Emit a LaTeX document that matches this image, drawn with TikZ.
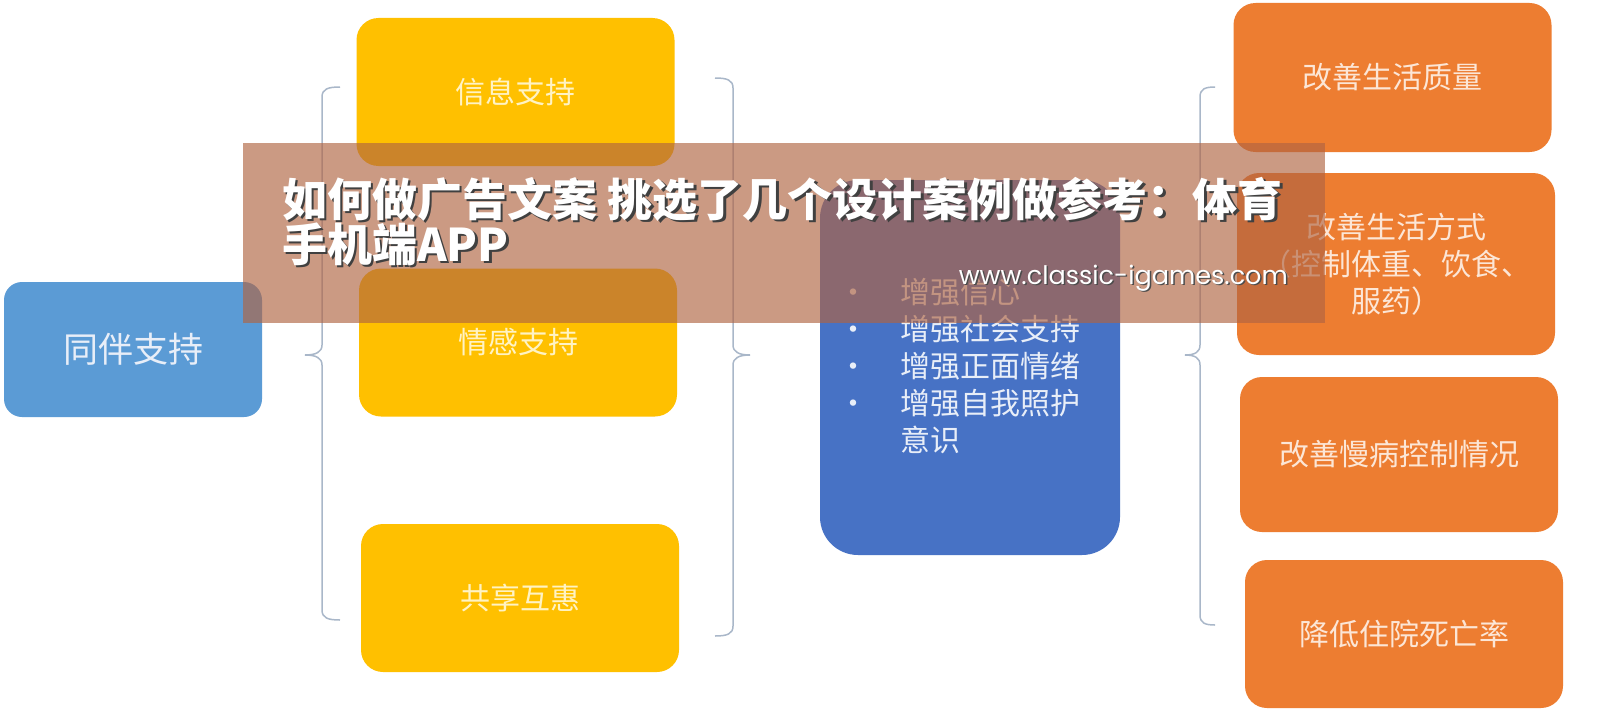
\documentclass[tikz,border=0pt]{standalone}
\usepackage{fontspec}
\setmainfont{Liberation Sans}
\newfontfamily\cjk{Noto Sans CJK SC}
\newfontfamily\urlfont{Poppins}

\definecolor{peerblue}{HTML}{5B9BD5}
\definecolor{boxyellow}{HTML}{FFC000}
\definecolor{boxorange}{HTML}{ED7D31}
\definecolor{listblue}{HTML}{4772C5}
\definecolor{bracegray}{HTML}{A9B7C9}
\definecolor{yellowtext}{HTML}{FFF3C4}
\definecolor{orangetext}{HTML}{FCE6D6}
\definecolor{bluetext}{HTML}{E8EEF8}
\definecolor{bannerbrown}{RGB}{176,100,66}

\tikzset{
  peerbox/.style={fill=peerblue, rounded corners=18pt, inner sep=0pt,
    minimum width=258pt, minimum height=135pt, text=bluetext,
    font=\cjk\fontsize{35}{40}\selectfont},
  kindbox/.style={fill=boxyellow, rounded corners=22pt, inner sep=0pt,
    minimum width=318pt, minimum height=148pt, text=yellowtext,
    font=\cjk\fontsize{30}{36}\selectfont},
  resultbox/.style={fill=boxorange, rounded corners=22pt, inner sep=0pt,
    minimum width=318pt, text=orangetext, align=center,
    font=\cjk\fontsize{30}{37}\selectfont},
  brace/.style={draw=bracegray, line width=1.5pt},
  titleline/.style={inner sep=0pt, anchor=north west, align=left,
    font=\cjk\bfseries\fontsize{45}{42}\selectfont},
  urlline/.style={inner sep=0pt, anchor=east,
    font=\urlfont\fontsize{25.5}{28}\selectfont},
}
\newcommand{\bul}{\makebox[30pt][c]{•}\hspace{32pt}}

\begin{document}
\begin{tikzpicture}[x=1pt,y=-1pt]
\useasboundingbox (0,0) rectangle (1597,725);
\fill[white] (0,0) rectangle (1597,725);

% left: peer support
\node[peerbox] (peer) at (133,349.5) {同伴支持};

% kinds of support
\node[kindbox] (info) at (515.5,92) {信息支持};
\node[kindbox] (emotion) at (518,342.5) {情感支持};
\node[kindbox] (share) at (520,598) {共享互惠};

% gains
\fill[listblue, rounded corners=38pt] (820,180) rectangle (1120,555);
\coordinate (gains) at (820,180);
\node[inner sep=0pt, anchor=north west, align=left, text=bluetext,
  font=\cjk\fontsize{30}{37}\selectfont] (gainlist) at (838,278)
  {\bul 增强信心\\ \bul 增强社会支持\\ \bul 增强正面情绪\\
   \bul 增强自我照护\\ \hspace*{62pt}意识};

% results
\node[resultbox, minimum height=149pt] (quality) at (1392.5,77.5) {改善生活质量};
\node[resultbox, minimum height=182pt] (life) at (1396,264) {改善生活方式\\（控制体重、饮食、\\服药）};
\node[resultbox, minimum height=155pt] (chronic) at (1399,454.5) {改善慢病控制情况};
\node[resultbox, minimum height=148pt] (hospital) at (1404,634) {降低住院死亡率};

% braces
\draw[brace] (340,87) .. controls (328,87) and (322,89) .. (322,97) -- (322,345)
  .. controls (322,352) and (316,355) .. (305,355)
  .. controls (316,355) and (322,358) .. (322,365) -- (322,610)
  .. controls (322,618) and (328,620) .. (340,620);
\draw[brace] (715,78) .. controls (727,78) and (733,80) .. (733,88) -- (733,345)
  .. controls (733,352) and (739,355) .. (750,355)
  .. controls (739,355) and (733,358) .. (733,365) -- (733,626)
  .. controls (733,634) and (727,636) .. (715,636);
\draw[brace] (1215,87) .. controls (1205,87) and (1200,89) .. (1200,97) -- (1200,345)
  .. controls (1200,352) and (1195,355) .. (1185,355)
  .. controls (1195,355) and (1200,358) .. (1200,365) -- (1200,615)
  .. controls (1200,623) and (1205,625) .. (1215,625);

% banner
\fill[bannerbrown, opacity=0.65] (243,143) rectangle (1325,323);
\node[titleline, text=black!75] (titleshadow) at (284.5,179.5)
  {如何做广告文案 挑选了几个设计案例做参考：体育\\手机端APP};
\node[titleline, text=white] (title) at (282,177)
  {如何做广告文案 挑选了几个设计案例做参考：体育\\手机端APP};
\node[urlline, text=black!70] (urlshadow) at (1289.5,279.5) {www.classic-igames.com};
\node[urlline, text=white] (url) at (1288,278) {www.classic-igames.com};
\end{tikzpicture}
\end{document}
